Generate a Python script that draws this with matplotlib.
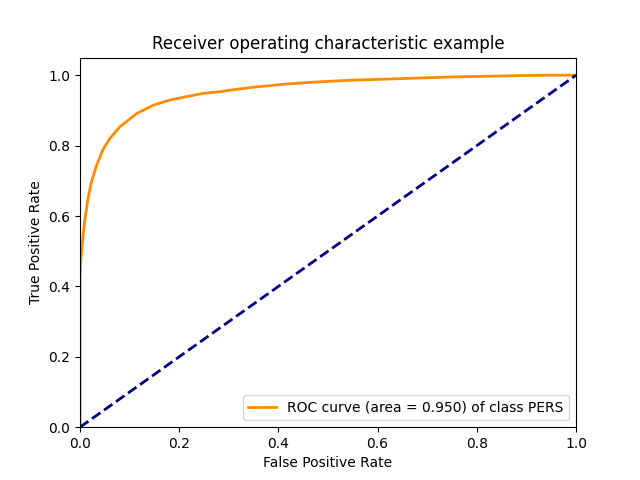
import matplotlib
matplotlib.use('Agg')
from matplotlib import pyplot as plt

# ROC curve points
fpr = [0.0, 0.0, 0.0, 0.001, 0.002, 0.004, 0.0087, 0.0155, 0.0222, 0.0323,
       0.0457, 0.06, 0.08, 0.114, 0.148, 0.18, 0.214, 0.247, 0.282, 0.30,
       0.35, 0.416, 0.48, 0.55, 0.62, 0.685, 0.75, 0.82, 0.89, 0.954, 1.0]
tpr = [0.0, 0.30, 0.42, 0.46, 0.48, 0.512, 0.578, 0.645, 0.692, 0.74,
       0.787, 0.82, 0.853, 0.891, 0.915, 0.929, 0.939, 0.948, 0.953, 0.957,
       0.966, 0.975, 0.981, 0.986, 0.989, 0.992, 0.995, 0.997, 0.999, 1.0, 1.0]
roc_auc = 0.950
class_name = 'PERS'

plt.figure(figsize=(6.4, 4.8), dpi=100)
lw = 2
plt.plot(fpr, tpr, color='darkorange', lw=lw,
         label='ROC curve (area = %0.3f) of class %s' % (roc_auc, class_name))
plt.plot([0, 1], [0, 1], color='navy', lw=lw, linestyle='--')
plt.xlim([0.0, 1.0])
plt.ylim([0.0, 1.05])
plt.xlabel('False Positive Rate')
plt.ylabel('True Positive Rate')
plt.title('Receiver operating characteristic example')
plt.legend(loc='lower right')
plt.savefig('out.png', dpi=100)
